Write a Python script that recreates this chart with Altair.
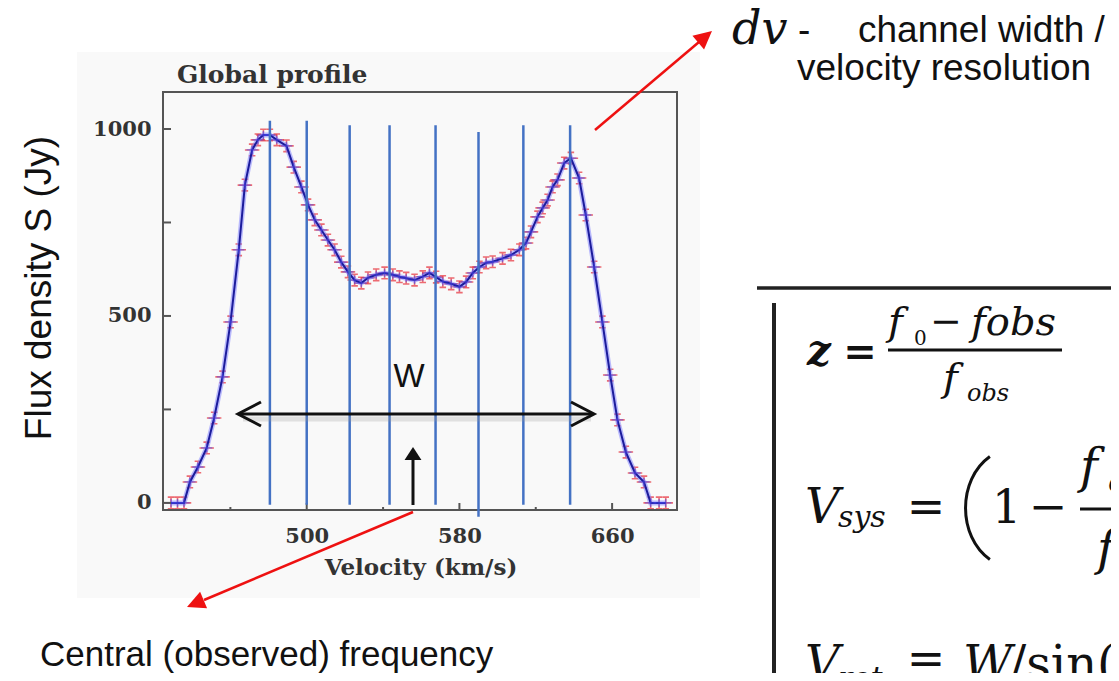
import altair as alt
import pandas as pd

# ---------------- data ----------------
velocity = [428.9, 432.3, 435.7, 438.8, 443.0, 447.6, 451.5, 455.9, 460.1, 464.4,
            467.6, 471.4, 474.4, 477.3, 480.7, 484.3, 489.4, 493.2, 497.2, 500.7,
            504.2, 507.7, 511.1, 514.6, 518.1, 521.6, 525.1, 528.6, 532.1, 536.4,
            540.8, 545.1, 548.6, 552.1, 556.5, 560.8, 564.3, 567.8, 571.3, 575.7,
            580.0, 583.5, 587.0, 590.5, 594.0, 597.4, 602.6, 607.0, 611.4, 614.9,
            617.5, 620.9, 623.6, 626.2, 628.8, 631.4, 634.9, 638.4, 642.7, 646.2,
            650.6, 654.9, 659.0, 662.8, 667.2, 672.0, 676.7, 680.2, 684.6, 688.1]
flux = [0, 0, 0, 56, 96, 147, 227, 337, 484, 677,
        850, 944, 971, 984, 984, 971, 955, 898, 845, 797,
        757, 730, 703, 677, 644, 618, 596, 588, 602, 610,
        615, 610, 605, 601, 596, 605, 615, 604, 592, 586,
        578, 591, 615, 631, 642, 645, 654, 663, 677, 695,
        725, 765, 789, 810, 845, 864, 909, 922, 869, 770,
        631, 484, 342, 222, 136, 80, 56, 0, 0, 0]

channel_v = [480.7, 500.0, 522.5, 543.4, 567.5, 590.0, 613.5, 638.0]
channel_top = [1022, 1022, 1010, 1010, 1010, 992, 1010, 1010]
channel_bottom = [-5, -5, -5, -5, -5, -37, -5, -5]

x_tick_major = [500, 580, 660]
x_tick_minor = [460, 540, 620]
x_label_values = [500, 580, 660]
y_tick_values = [0, 250, 500, 750, 1000]
y_label_values = [0, 500, 1000]

# ---------------- chart ----------------
W, H = 514, 418
xs = alt.Scale(domain=[424.7, 694], nice=False, zero=False)
ys = alt.Scale(domain=[-19, 1099], nice=False, zero=False)

profile = pd.DataFrame({"v": velocity, "S": flux})
channels = pd.DataFrame({"v": channel_v, "top": channel_top, "bottom": channel_bottom})
xt_major = pd.DataFrame({"v": x_tick_major})
xt_minor = pd.DataFrame({"v": x_tick_minor})
yt = pd.DataFrame({"S": y_tick_values})
one = pd.DataFrame({"a": [0]})

SERIF = "DejaVu Serif"
SANS = "Liberation Sans"


def seg(x1, y1, x2, y2, color="#111111", w=3.0, opacity=1.0, cap="butt"):
    return alt.Chart(one).mark_rule(color=color, strokeWidth=w, opacity=opacity,
                                    strokeCap=cap).encode(
        x=alt.value(x1), y=alt.value(y1), x2=alt.value(x2), y2=alt.value(y2))


def txt(text, x, y, size, font=SANS, align="left", baseline="alphabetic",
        style="normal", weight="normal", color="#111111", angle=0):
    return alt.Chart(one).mark_text(text=text, align=align, baseline=baseline,
                                    font=font, fontSize=size, fontStyle=style,
                                    fontWeight=weight, color=color, angle=angle).encode(
        x=alt.value(x), y=alt.value(y))


def head(x, y, angle, size, shape, color, filled=True, w=2.5):
    return alt.Chart(one).mark_point(shape=shape, size=size, angle=angle,
                                     filled=filled, color=color, opacity=1,
                                     strokeWidth=w, strokeJoin="miter").encode(
        x=alt.value(x), y=alt.value(y))


TRI = "M0,0L-0.5,1L0.5,1Z"
TRI_W = "M0,0L-0.65,1L0.65,1Z"
CHEV = "M-0.52,1L0,0L0.52,1"
ERR = "M-1,0L1,0M0,-0.8L0,0.8M-0.45,-0.8L0.45,-0.8M-0.45,0.8L0.45,0.8"
PLUS = "M-1,0L1,0M0,-0.7L0,0.7"
PAREN = "M0.25,-1C-0.38,-0.55,-0.38,0.55,0.25,1"

# background of the embedded figure
bg = alt.Chart(one).mark_rect(color="#f9f9f9").encode(
    x=alt.value(-86), x2=alt.value(537), y=alt.value(-40), y2=alt.value(506))

lab_axis = dict(labelFont=SERIF, labelFontWeight="bold", labelFontSize=21,
                labelColor="#333333", domain=False, ticks=False, grid=False,
                title=None, zindex=2, format="d")

errs = alt.Chart(profile).mark_point(shape=ERR, size=210, filled=False,
                                     color="#e8303a", strokeWidth=1.6, opacity=0.7).encode(
    x=alt.X("v:Q", scale=xs, axis=alt.Axis(values=x_label_values, labelPadding=15, **lab_axis)),
    y=alt.Y("S:Q", scale=ys, axis=alt.Axis(values=y_label_values, labelPadding=12, **lab_axis)),
)
halo = alt.Chart(profile).mark_line(color="#7a7aff", strokeWidth=5, opacity=0.5).encode(
    x=alt.X("v:Q", scale=xs), y=alt.Y("S:Q", scale=ys))
core = alt.Chart(profile).mark_line(color="#1c1c9c", strokeWidth=2).encode(
    x=alt.X("v:Q", scale=xs), y=alt.Y("S:Q", scale=ys))
plus = alt.Chart(profile).mark_point(shape=PLUS, size=130, filled=False,
                                     color="#4a4aee", strokeWidth=1.3, opacity=0.6).encode(
    x=alt.X("v:Q", scale=xs), y=alt.Y("S:Q", scale=ys))

frame = alt.Chart(one).mark_rect(fillOpacity=0, stroke="#555555", strokeWidth=2).encode(
    x=alt.value(0), x2=alt.value(W), y=alt.value(0), y2=alt.value(H))

xticks1 = alt.Chart(xt_major).mark_rule(color="#555555", strokeWidth=2).encode(
    x=alt.X("v:Q", scale=xs), y=alt.value(H), y2=alt.value(H - 7))
xticks2 = alt.Chart(xt_minor).mark_rule(color="#555555", strokeWidth=2).encode(
    x=alt.X("v:Q", scale=xs), y=alt.value(H), y2=alt.value(H - 3))
yticks = alt.Chart(yt).mark_rule(color="#555555", strokeWidth=2).encode(
    y=alt.Y("S:Q", scale=ys), x=alt.value(0), x2=alt.value(8))

chan = alt.Chart(channels).mark_rule(color="#4472c4", strokeWidth=2.5).encode(
    x=alt.X("v:Q", scale=xs), y=alt.Y("top:Q", scale=ys), y2="bottom:Q")

layers = [bg, errs, halo, core, plus, frame, xticks1, xticks2, yticks, chan]

# figure texts
layers += [
    txt("Global profile", 14, -9, 25, font=SERIF, weight="bold", color="#333333"),
    txt("Velocity (km/s)", 258, 476, 23, font=SERIF, weight="bold", color="#333333",
        align="center", baseline="middle"),
    txt("Flux density S (Jy)", -123, 196, 37, align="center", baseline="middle", angle=270),
    txt("W", 246, 285, 33, align="center", baseline="middle"),
]

# W double arrow
layers += [
    seg(80, 327, 428, 327, color="#999999", w=5, opacity=0.25),
    seg(76, 322, 430, 322, w=3),
    head(75, 322, 270, 2116, CHEV, "#111111", filled=False, w=3),
    head(431, 322, 90, 2116, CHEV, "#111111", filled=False, w=3),
]
# up arrow (central frequency)
layers += [
    seg(250, 413, 250, 364, w=3),
    head(250, 355, 0, 676, TRI_W, "#111111"),
]
# red arrows
layers += [
    seg(250, 420, 41, 508, color="#ee1111", w=2.5),
    head(24, 515, 247.2, 1296, TRI, "#ee1111"),
    seg(432, 38, 536, -50, color="#ee1111", w=2.5),
    head(549, -61, 49.8, 1296, TRI, "#ee1111"),
]

# annotation texts
layers += [
    txt("dv", 569, -48, 46, font=SERIF, style="italic"),
    txt("-", 635, -50, 37),
    txt("channel width /", 695, -50, 37),
    txt("velocity resolution", 634, -12, 37),
    txt("Central (observed) frequency", -123, 574, 35),
]

# equation box
layers += [
    seg(594, 196, 960, 196, color="#222222", w=3.5),
    seg(611, 211, 611, 600, color="#222222", w=4),
]
EQ = "#111111"
layers += [
    txt("z", 644, 273, 42, font=SERIF, style="italic", weight="bold", color=EQ),
    txt("=", 697, 273, 40, font=SERIF, weight="bold", align="center", color=EQ),
    txt("f", 725, 243, 40, font=SERIF, style="italic", color=EQ),
    txt("0", 751, 253, 20, font=SERIF, color=EQ),
    txt("\u2212", 783, 242, 38, font=SERIF, align="center", color=EQ),
    txt("fobs", 808, 243, 40, font=SERIF, style="italic", color=EQ),
    seg(725, 258, 899, 258, color=EQ, w=3),
    txt("f", 780, 299, 40, font=SERIF, style="italic", color=EQ),
    txt("obs", 804, 309, 24, font=SERIF, style="italic", color=EQ),
    txt("V", 642, 431, 48, font=SERIF, style="italic", color=EQ),
    txt("sys", 675, 435, 30, font=SERIF, style="italic", color=EQ),
    txt("=", 763, 430, 46, font=SERIF, align="center", color=EQ),
    head(814, 416, 0, 10609, PAREN, EQ, filled=False, w=3),
    txt("1", 829, 431, 46, font=SERIF, color=EQ),
    txt("\u2212", 885, 430, 46, font=SERIF, align="center", color=EQ),
    txt("f", 917, 391, 48, font=SERIF, style="italic", color=EQ),
    txt("o", 945, 400, 30, font=SERIF, style="italic", color=EQ),
    seg(917, 417, 960, 417, color=EQ, w=3),
    txt("f", 934, 473, 48, font=SERIF, style="italic", color=EQ),
    txt("V", 642, 588, 48, font=SERIF, style="italic", color=EQ),
    txt("rot", 675, 596, 30, font=SERIF, style="italic", color=EQ),
    txt("=", 763, 582, 46, font=SERIF, align="center", color=EQ),
    txt("W", 800, 588, 48, font=SERIF, style="italic", color=EQ),
    txt("/sin(", 847, 588, 48, font=SERIF, color=EQ),
]

chart = alt.layer(*layers).properties(
    width=W, height=H,
    padding={"left": 155, "top": 84, "right": 434, "bottom": 163},
    autosize=alt.AutoSizeParams(type="none"),
).configure_view(stroke=None).configure(background="white")

chart.save("out.html", embed_options={"renderer": "svg", "actions": False})
